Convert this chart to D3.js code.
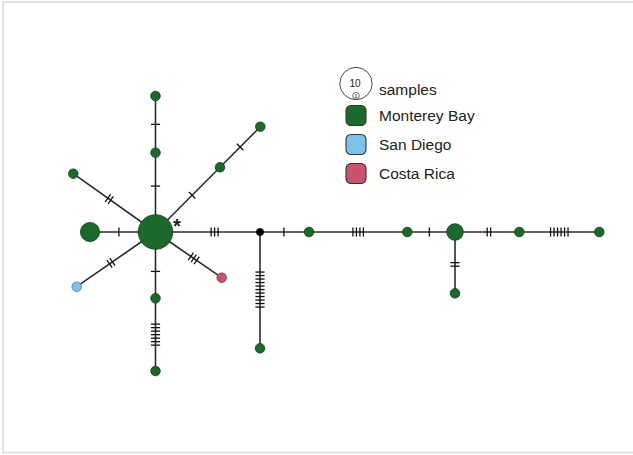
<!DOCTYPE html>
<html>
<head>
<meta charset="utf-8">
<script src="https://cdn.jsdelivr.net/npm/d3@7"></script>
<style>
  html, body { margin: 0; padding: 0; background: #fff; }
  svg { display: block; font-family: "Liberation Sans", Arial, sans-serif; }
</style>
</head>
<body>
<svg id="chart" width="633" height="455"></svg>
<script>
// Haplotype network: nodes sized by sample count, coloured by population,
// hatch marks on each edge = number of mutational steps.

const populations = ["Monterey Bay", "San Diego", "Costa Rica"];
const popColors = ["#1b6a2c", "#7cc3e9", "#c8536b"];

// haplotypes (layout units of the network drawing)
const hapIds    = ["hub","left","up1","up2","ur1","ur2","ul","sd","cr","dn1","dn2","mv","mvd","r1","r2","r3","r3d","r4","r5"];
const hapCounts = [13, 4, 1, 1, 1, 1, 1, 1, 1, 1, 1, 0, 1, 1, 1, 3, 1, 1, 1];
const hapPop    = [0, 0, 0, 0, 0, 0, 0, 1, 2, 0, 0, -1, 0, 0, 0, 0, 0, 0, 0];
const hapLayoutX = [0, -6.55, 0, 0, 6.45, 10.48, -8.22, -7.88, 6.62, 0, 0, 10.45, 10.45, 15.35, 25.18, 29.95, 29.95, 36.38, 44.38];
const hapLayoutY = [0, 0, -7.93, -13.6, -6.47, -10.53, -5.83, 5.47, 4.57, 6.63, 13.9, 0, 11.63, 0, 0, 0, 6.13, 0, 0];

// links and number of mutations between haplotypes
const linkSource    = ["hub","hub","up1","hub","ur1","hub","hub","hub","hub","dn1","hub","mv","mv","r1","r2","r3","r3","r4"];
const linkTarget    = ["left","up1","up2","ur1","ur2","ul","sd","cr","dn1","dn2","mv","mvd","r1","r2","r3","r3d","r4","r5"];
const linkMutations = [1, 1, 1, 1, 1, 2, 2, 3, 1, 7, 3, 11, 1, 4, 1, 2, 2, 6];

const legendSampleKey = [10, 1];

const nodes = hapIds.map((id, i) => ({
  id, count: hapCounts[i], pop: hapPop[i], lx: hapLayoutX[i], ly: hapLayoutY[i]
}));
const byId = new Map(nodes.map(n => [n.id, n]));
const links = linkSource.map((s, i) => ({
  source: byId.get(s), target: byId.get(linkTarget[i]), mutations: linkMutations[i]
}));

const svg = d3.select("#chart");

// frame
svg.append("rect")
  .attr("x", 3).attr("y", 2).attr("width", 700).attr("height", 450.7)
  .attr("fill", "none").attr("stroke", "#e1e1dc").attr("stroke-width", 2);

const x = d3.scaleLinear().domain([-10, 50]).range([55.5, 655.5]);
const y = d3.scaleLinear().domain([-15, 15]).range([82, 382]);
const r = d3.scaleSqrt().domain([0, 1]).range([0, 4.8]);
const nodeR = n => n.count > 0 ? r(n.count) : 3.6;

const g = svg.append("g");

// edges
g.selectAll("line.edge").data(links).join("line")
  .attr("class", "edge")
  .attr("x1", d => x(d.source.lx)).attr("y1", d => y(d.source.ly))
  .attr("x2", d => x(d.target.lx)).attr("y2", d => y(d.target.ly))
  .attr("stroke", "#2b2b2b").attr("stroke-width", 1.6);

// mutation hatch marks, centred on the visible part of each edge
const tickSpacing = 3.5, tickHalf = 4.6;
links.forEach(l => {
  const x1 = x(l.source.lx), y1 = y(l.source.ly);
  const x2 = x(l.target.lx), y2 = y(l.target.ly);
  const len = Math.hypot(x2 - x1, y2 - y1);
  const ux = (x2 - x1) / len, uy = (y2 - y1) / len;
  const px = -uy, py = ux;
  const a = nodeR(l.source), b = len - nodeR(l.target);
  const mid = (a + b) / 2;
  const offs = d3.range(l.mutations).map(k => (k - (l.mutations - 1) / 2) * tickSpacing);
  g.selectAll(null).data(offs).join("line")
    .attr("x1", o => x1 + ux * (mid + o) + px * tickHalf)
    .attr("y1", o => y1 + uy * (mid + o) + py * tickHalf)
    .attr("x2", o => x1 + ux * (mid + o) - px * tickHalf)
    .attr("y2", o => y1 + uy * (mid + o) - py * tickHalf)
    .attr("stroke", "#111").attr("stroke-width", 1.3);
});

// haplotype nodes
const strokeFor = p => p < 0 ? "#000" : d3.color(popColors[p]).darker(1.4);
g.selectAll("circle.hap").data(nodes).join("circle")
  .attr("class", "hap")
  .attr("cx", d => x(d.lx)).attr("cy", d => y(d.ly))
  .attr("r", nodeR)
  .attr("fill", d => d.pop < 0 ? "#000" : popColors[d.pop])
  .attr("stroke", d => strokeFor(d.pop))
  .attr("stroke-width", 0.8);

// marker next to the central haplotype
const hub = byId.get("hub");
g.append("text")
  .attr("x", x(hub.lx) + 21.5).attr("y", y(hub.ly) + 1)
  .attr("text-anchor", "middle")
  .attr("font-size", 20).attr("font-weight", "bold").attr("fill", "#222")
  .text("*");

// legend
const lg = svg.append("g").attr("transform", "translate(356,0)");
const bigR = r(legendSampleKey[0]) + 1;
lg.append("circle").attr("cx", 0).attr("cy", 83.5).attr("r", bigR)
  .attr("fill", "#fff").attr("stroke", "#333").attr("stroke-width", 0.9);
lg.append("text").attr("x", -1).attr("y", 86.5).attr("text-anchor", "middle")
  .attr("font-size", 10).attr("fill", "#222").text(legendSampleKey[0]);
const smallR = 3.4;
lg.append("circle").attr("cx", 0).attr("cy", 83.5 + bigR - smallR - 0.5).attr("r", smallR)
  .attr("fill", "#fff").attr("stroke", "#333").attr("stroke-width", 0.7);
lg.append("text").attr("x", 0).attr("y", 83.5 + bigR - smallR + 1.6).attr("text-anchor", "middle")
  .attr("font-size", 6).attr("fill", "#222").text(legendSampleKey[1]);
lg.append("text").attr("x", 23).attr("y", 95)
  .attr("font-size", 15.5).attr("fill", "#222").text("samples");

const rows = lg.selectAll("g.row").data(populations).join("g")
  .attr("class", "row")
  .attr("transform", (d, i) => `translate(0,${115.5 + i * 29})`);
rows.append("rect")
  .attr("x", -10).attr("y", -10).attr("width", 20).attr("height", 20)
  .attr("rx", 5).attr("ry", 5)
  .attr("fill", (d, i) => popColors[i])
  .attr("stroke", "#333").attr("stroke-width", 1.1);
rows.append("text")
  .attr("x", 23).attr("y", 5.5)
  .attr("font-size", 15.5).attr("fill", "#222")
  .text(d => d);
</script>
</body>
</html>
